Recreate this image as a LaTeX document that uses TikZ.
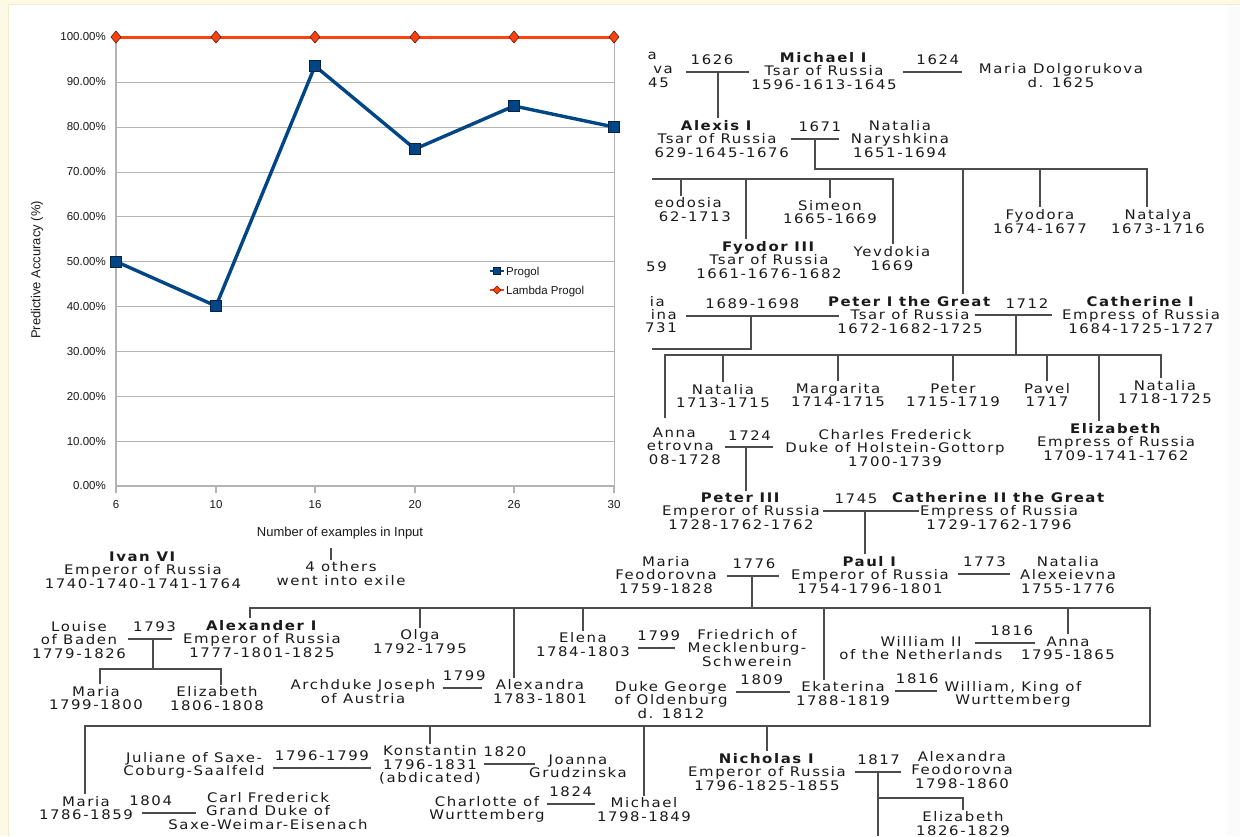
\documentclass[tikz,border=0pt]{standalone}
\usepackage{fontspec}
\usepackage{tikz}
\usetikzlibrary{positioning,calc}
\newfontfamily\treefont[FakeStretch=1.13,LetterSpace=12]{DejaVu Sans}
\newfontfamily\chartfont{Liberation Sans}
\definecolor{ink}{HTML}{1A1A1A}
\definecolor{wire}{HTML}{4C4C4C}
\definecolor{progol}{HTML}{004586}
\definecolor{progoledge}{HTML}{06223F}
\definecolor{lambdap}{HTML}{FF420E}
\definecolor{lambdaedge}{HTML}{5A1A05}
\definecolor{gridc}{HTML}{B3B3B3}
\definecolor{cream}{HTML}{FCF9E6}
\definecolor{creamline}{HTML}{F2EBC4}
\tikzset{
  pers/.style={font=\treefont\fontsize{13.2}{13.4}\selectfont, text=ink, align=center, inner sep=2pt},
  frag/.style={pers, anchor=east},
  yr/.style={font=\treefont\fontsize{13.2}{13.4}\selectfont, text=ink, inner sep=0pt, above=6pt},
  kin/.style={draw=wire, line width=2pt},
  wed/.style 2 args={kin, shorten <=#1pt, shorten >=#2pt},
  ticklab/.style={font=\chartfont\fontsize{11.5}{13}\selectfont, text=ink, inner sep=0pt},
  axtitle/.style={font=\chartfont\fontsize{13}{15}\selectfont, text=ink, inner sep=0pt},
}
\begin{document}
\begin{tikzpicture}[x=1pt,y=-1pt]
\useasboundingbox (0,0) rectangle (1240,836);
\fill[white] (0,0) rectangle (1240,836);
\fill[cream] (0,0) rectangle (8,836) (8,0) rectangle (1240,4);
\draw[creamline] (8,836) -- (8,4) -- (1240,4);
\fill[black!1.5] (1227,4.5) rectangle (1240,836);

% chart
\foreach \v in {0,10,...,100}{
  \draw[gridc] (116,{486-4.49*\v}) -- (614,{486-4.49*\v});
  \node[ticklab, anchor=east] (yl\v) at (106,{486-4.49*\v}) {\v.00\%};
}
\draw[gridc, line width=1.2pt] (116,37) -- (116,486) -- (614,486);
\draw[gridc] (614,37) -- (614,486);
\foreach \x/\n in {116/6,216/10,315/16,415/20,514/26,614/30}{
  \draw[gridc, line width=1.2pt] (\x,486) -- (\x,493);
  \node[ticklab] (xl\n) at (\x,505) {\n};
}
\draw[lambdap, line width=3pt] (116,37) -- (614,37);
\foreach \x in {116,216,315,415,514,614}
  \filldraw[fill=lambdap, draw=lambdaedge, line width=0.6pt] ({\x-5},37) -- (\x,31) -- ({\x+5},37) -- (\x,43) -- cycle;
\draw[progol, line width=3.4pt, line join=round] (116,261.5) -- (216,306) -- (315,66) -- (415,149) -- (514,106) -- (614,127);
\foreach \x/\y in {116/261.5,216/306,315/66,415/149,514/106,614/127}
  \filldraw[fill=progol, draw=progoledge, line width=0.8pt] ({\x-5.5},{\y-5.5}) rectangle ({\x+5.5},{\y+5.5});
\draw[progol, line width=1.5pt] (490,271) -- (504,271);
\filldraw[fill=progol, draw=progoledge, line width=0.5pt] (493.5,267.5) rectangle (500.5,274.5);
\node[ticklab, anchor=west] (legA) at (506,273) {Progol};
\draw[lambdap, line width=1.5pt] (490,290) -- (504,290);
\filldraw[fill=lambdap, draw=lambdaedge, line width=0.4pt] (493,290) -- (497,286) -- (501,290) -- (497,294) -- cycle;
\node[ticklab, anchor=west] (legB) at (506,292) {Lambda Progol};
\node[axtitle] (xtitle) at (340,533) {Number of examples in Input};
\node[axtitle, rotate=90] (ytitle) at (37,270) {Predictive Accuracy (\%)};

% tree
\node[frag] (eudA) at (659,56) {a};
\node[frag] (eudB) at (675,70) {va};
\node[frag] (eudC) at (671,83) {45};
\node[pers] (michael) at (824,71) {\textbf{Michael I}\\Tsar of Russia\\1596-1613-1645};
\node[pers] (dolgo) at (1061,75.5) {Maria Dolgorukova\\d. 1625};
\node[pers] (alexis) at (717,139) {\textbf{Alexis I}\\Tsar of Russia\\\phantom{1}629-1645-1676};
\node[pers] (narysh) at (900,139) {Natalia\\Naryshkina\\1651-1694};
\node[frag] (feoA) at (724,203) {eodosia};
\node[frag] (feoB) at (733,217) {62-1713};
\node[pers] (simeon) at (830,212) {Simeon\\1665-1669};
\node[pers] (fyodor3) at (769,260) {\textbf{Fyodor III}\\Tsar of Russia\\1661-1676-1682};
\node[pers] (yevdokia) at (892,258.5) {Yevdokia\\1669};
\node[frag] (milosl) at (669,267) {59};
\node[pers] (fyodora) at (1040,221.5) {Fyodora\\1674-1677};
\node[pers] (natalya) at (1158,221.5) {Natalya\\1673-1716};
\node[frag] (lopA) at (667,302) {ia};
\node[frag] (lopB) at (679,315) {ina};
\node[frag] (lopC) at (679,328) {731};
\node[pers] (peter1) at (910,315) {\textbf{Peter I the Great}\\Tsar of Russia\\1672-1682-1725};
\node[pers] (cath1) at (1141,315) {\textbf{Catherine I}\\Empress of Russia\\1684-1725-1727};
\node[pers] (nat1713) at (723,396) {Natalia\\1713-1715};
\node[pers] (margarita) at (838,395) {Margarita\\1714-1715};
\node[pers] (peterS) at (953,395) {Peter\\1715-1719};
\node[pers] (pavel) at (1047,395) {Pavel\\1717};
\node[pers] (nat1718) at (1165,392) {Natalia\\1718-1725};
\node[pers] (elizabeth) at (1116,442) {\textbf{Elizabeth}\\Empress of Russia\\1709-1741-1762};
\node[frag] (annaA) at (698,433) {Anna};
\node[frag] (annaB) at (716,446) {etrovna};
\node[frag] (annaC) at (723,460) {08-1728};
\node[pers] (charles) at (895,448) {Charles Frederick\\Duke of Holstein-Gottorp\\1700-1739};
\node[pers] (peter3) at (741,511) {\textbf{Peter III}\\Emperor of Russia\\1728-1762-1762};
\node[pers] (cath2) at (999,511) {\textbf{Catherine II the Great}\\Empress of Russia\\1729-1762-1796};
\node[pers] (ivan6) at (143,570) {\textbf{Ivan VI}\\Emperor of Russia\\1740-1740-1741-1764};
\node[pers] (others) at (341,573.5) {4 others\\went into exile};
\node[pers] (mariaF) at (666,575) {Maria\\Feodorovna\\1759-1828};
\node[pers] (paul) at (870,575) {\textbf{Paul I}\\Emperor of Russia\\1754-1796-1801};
\node[pers] (natalyaA) at (1068,575) {Natalia\\Alexeievna\\1755-1776};
\node[pers] (louise) at (79,640) {Louise\\of Baden\\1779-1826};
\node[pers] (alex1) at (262,639) {\textbf{Alexander I}\\Emperor of Russia\\1777-1801-1825};
\node[pers] (mariaA) at (96,698) {Maria\\1799-1800};
\node[pers] (elizA) at (217,698.5) {Elizabeth\\1806-1808};
\node[pers] (olga) at (420,641.5) {Olga\\1792-1795};
\node[pers] (joseph) at (363,691.5) {Archduke Joseph\\of Austria};
\node[pers] (alexandra) at (540,691.5) {Alexandra\\1783-1801};
\node[pers] (elena) at (583,644.5) {Elena\\1784-1803};
\node[pers] (friedrich) at (747,648) {Friedrich of\\Mecklenburg-\\Schwerein};
\node[pers] (william2) at (921,648) {William II\\of the Netherlands};
\node[pers] (anna) at (1068,648) {Anna\\1795-1865};
\node[pers] (george) at (671,700) {Duke George\\of Oldenburg\\d. 1812};
\node[pers] (ekaterina) at (843,693.5) {Ekaterina\\1788-1819};
\node[pers] (williamK) at (1013,694.5) {William, King of\\Wurttemberg};
\node[pers] (juliane) at (194,765.5) {Juliane of Saxe-\\Coburg-Saalfeld};
\node[pers] (konstantin) at (430,765) {Konstantin\\1796-1831\\(abdicated)};
\node[pers] (joanna) at (578,766.5) {Joanna\\Grudzinska};
\node[pers] (mariaP) at (86,808) {Maria\\1786-1859};
\node[pers] (carl) at (268,811) {Carl Frederick\\Grand Duke of\\Saxe-Weimar-Eisenach};
\node[pers] (charlotte) at (487,809.5) {Charlotte of\\Wurttemberg};
\node[pers] (michaelP) at (644,809.5) {Michael\\1798-1849};
\node[pers] (nicholas) at (767,772) {\textbf{Nicholas I}\\Emperor of Russia\\1796-1825-1855};
\node[pers] (alexandraF) at (962,770) {Alexandra\\Feodorovna\\1798-1860};
\node[pers] (elizN) at (963,823.5) {Elizabeth\\1826-1829};

% marriages
\coordinate (k1626) at (718,72);  \coordinate (k1624) at (933,72);
\coordinate (k1671) at (815,139); \coordinate (k1689) at (751,316);
\coordinate (k1712) at (1016,315); \coordinate (k1724) at (746,447);
\coordinate (k1745) at (865,511); \coordinate (k1776) at (752,576);
\coordinate (k1773) at (985,574); \coordinate (k1793) at (153,639);
\coordinate (k1799a) at (465,688); \coordinate (k1799b) at (656,648);
\coordinate (k1816a) at (1004,643); \coordinate (k1809) at (763,692);
\coordinate (k1816b) at (916,691); \coordinate (k1796) at (323,768);
\coordinate (k1820) at (510,764); \coordinate (k1804) at (166,813);
\coordinate (k1824) at (573,804); \coordinate (k1817) at (878,772);
\draw[wed={11}{0}] (eudB.east |- k1626) -- node[yr] (t1626) {1626} (michael.west |- k1626);
\draw[wed={4}{15}] (michael.east |- k1624) -- node[yr] (t1624) {1624} (dolgo.west |- k1624);
\draw[wed={0}{10}] (alexis.east |- k1671) -- node[yr] (t1671) {1671} (narysh.west |- k1671);
\draw[wed={7}{-13}] (lopB.east |- k1689) -- node[yr] (t1689) {1689-1698} (peter1.west |- k1689);
\draw[wed={-19}{8}] (peter1.east |- k1712) -- node[yr] (t1712) {1712} (cath1.west |- k1712);
\draw[wed={9}{10}] (annaB.east |- k1724) -- node[yr] (t1724) {1724} (charles.west |- k1724);
\draw[wed={1}{-29}] (peter3.east |- k1745) -- node[yr] (t1745) {1745} (cath2.west |- k1745);
\draw[wed={8}{10}] (mariaF.east |- k1776) -- node[yr] (t1776) {1776} (paul.west |- k1776);
\draw[wed={7}{8}] (paul.east |- k1773) -- node[yr] (t1773) {1773} (natalyaA.west |- k1773);
\draw[wed={0}{9}] (louise.east |- k1793) -- node[yr] (t1793) {1793} (alex1.west |- k1793);
\draw[wed={5}{9}] (joseph.east |- k1799a) -- node[yr] (t1799a) {1799} (alexandra.west |- k1799a);
\draw[wed={6}{10}] (elena.east |- k1799b) -- node[yr] (t1799b) {1799} (friedrich.west |- k1799b);
\draw[wed={-30}{-16}] (william2.east |- k1816a) -- node[yr] (t1816a) {1816} (anna.west |- k1816a);
\draw[wed={6}{4}] (george.east |- k1809) -- node[yr] (t1809) {1809} (ekaterina.west |- k1809);
\draw[wed={3}{5}] (ekaterina.east |- k1816b) -- node[yr] (t1816b) {1816} (williamK.west |- k1816b);
\draw[wed={6}{6}] (juliane.east |- k1796) -- node[yr] (t1796) {1796-1799} (konstantin.west |- k1796);
\draw[wed={1}{-8}] (konstantin.east |- k1820) -- node[yr] (t1820) {1820} (joanna.west |- k1820);
\draw[wed={7}{-30}] (mariaP.east |- k1804) -- node[yr] (t1804) {1804} (carl.west |- k1804);
\draw[wed={0}{0}] (charlotte.east |- k1824) -- node[yr] (t1824) {1824} (michaelP.west |- k1824);
\draw[wed={7}{8}] (nicholas.east |- k1817) -- node[yr] (t1817) {1817} (alexandraF.west |- k1817);

% children
\draw[kin] (k1626) -- (k1626 |- alexis.north);
\coordinate (b1671) at (1147,169); \coordinate (j1671) at (963,169);
\draw[kin] (k1671) |- (b1671) -- (b1671 |- natalya.north);
\draw[kin] (j1671) -- (j1671 |- peter1.north);
\draw[kin] (b1671 -| fyodora) -- (fyodora.north);
\coordinate (m0) at (652,179); \coordinate (m1) at (893,179);
\coordinate (mF) at (681,179); \coordinate (mY) at (746,179);
\draw[kin] (m0) -- (m1) -- (m1 |- yevdokia.north);
\draw[kin] (mF) -- (mF |- feoA.north);
\draw[kin] (mY) -- (mY |- fyodor3.north);
\draw[kin] (m0 -| simeon) -- (simeon.north);
\coordinate (p0) at (652,349);
\draw[kin] (k1689) |- (p0);
\coordinate (q0) at (665,355); \coordinate (q1) at (1161,355);
\coordinate (qA) at (665,418); \coordinate (qE) at (1099,355);
\draw[kin] (k1712) -- (k1712 |- q0);
\draw[kin] (qA) -- (q0) -- (q1) -- (q1 |- nat1718.north);
\foreach \c in {nat1713,margarita,peterS,pavel} \draw[kin] (q0 -| \c) -- (\c.north);
\draw[kin] (qE) -- (qE |- elizabeth.north);
\draw[kin] (k1724) -- (k1724 |- peter3.north);
\draw[kin] (k1745) -- (k1745 |- paul.north);
\coordinate (w0) at (331,548);
\draw[kin] (w0) -- (w0 |- others.north);
\coordinate (r0) at (250,608); \coordinate (r1) at (1150,608);
\coordinate (rA) at (514,608); \coordinate (rK) at (824,608);
\coordinate (s0) at (85,726); \coordinate (s1) at (1150,726);
\draw[kin] (k1776) -- (k1776 |- r0);
\draw[kin] (r0 |- alex1.north) -- (r0) -- (r1) -- (s1) -- (s0) -- (s0 |- mariaP.north);
\draw[kin] (rA) -- (rA |- alexandra.north);
\draw[kin] (rK) -- (rK |- ekaterina.north);
\foreach \c in {olga,elena,anna} \draw[kin] (r0 -| \c) -- (\c.north);
\foreach \c in {konstantin,michaelP,nicholas} \draw[kin] (s0 -| \c) -- (\c.north);
\coordinate (u0) at (100,669); \coordinate (u1) at (221,669);
\draw[kin] (k1793) -- (k1793 |- u0);
\draw[kin] (u0 |- mariaA.north) -- (u0) -- (u1) -- (u1 |- elizA.north);
\coordinate (n0) at (878,798); \coordinate (n1) at (878,836);
\draw[kin] (k1817) -- (n1);
\draw[kin] (n0) -| (elizN.north);
\end{tikzpicture}
\end{document}
